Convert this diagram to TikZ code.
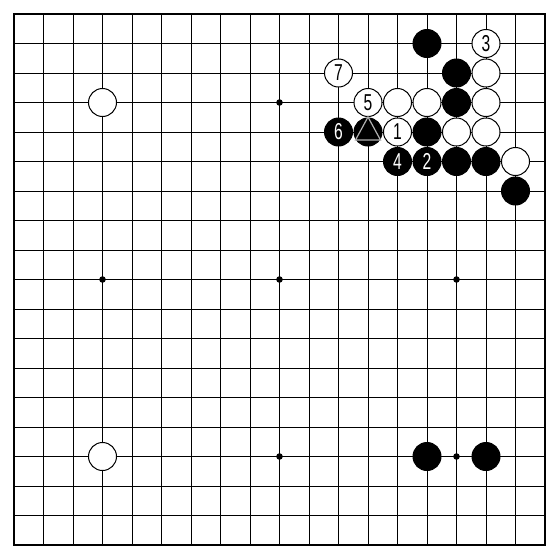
\documentclass[tikz,border=0pt]{standalone}
\usepackage{fontspec}
\setmainfont{Liberation Sans}
\usetikzlibrary{calc}
\begin{document}
\begin{tikzpicture}[x=1pt,y=-1pt,
  bst/.style={circle,fill=black,draw=black,line width=1pt,minimum size=28pt,inner sep=0pt,text=white},
  wst/.style={circle,fill=white,draw=black,line width=1pt,minimum size=28pt,inner sep=0pt,text=black}]
\useasboundingbox (0,0) rectangle (560,560);
\fill[white] (0,0) rectangle (560,560);
% grid
\foreach \i in {2,...,18} {
  \draw[line width=1pt] ({14+(\i-1)*29.5},14) -- ({14+(\i-1)*29.5},545);
  \draw[line width=1pt] (14,{14+(\i-1)*29.5}) -- (545,{14+(\i-1)*29.5});
}
\draw[line width=2pt] (14,14) rectangle (545,545);
% star points
\foreach \a in {4,10,16} \foreach \b in {4,10,16}
  \fill ({14+(\a-1)*29.5},{14+(\b-1)*29.5}) circle (3.3pt);
% stones
\newcommand\pos[2]{({14+(#1-1)*29.5},{14+(#2-1)*29.5})}
\newcommand\num[1]{\fontsize{23}{23}\selectfont\scalebox{0.68}[1]{#1}}
\node[bst] (b1) at \pos{15}{2} {};
\node[wst] (w3) at \pos{17}{2} {\num{3}};
\node[wst] (w7) at \pos{12}{3} {\num{7}};
\node[bst] (b2) at \pos{16}{3} {};
\node[wst] (w2) at \pos{17}{3} {};
\node[wst] (w4) at \pos{4}{4} {};
\node[wst] (w5) at \pos{13}{4} {\num{5}};
\node[wst] (w6) at \pos{14}{4} {};
\node[wst] (w8) at \pos{15}{4} {};
\node[bst] (b3) at \pos{16}{4} {};
\node[wst] (w9) at \pos{17}{4} {};
\node[bst] (b6) at \pos{12}{5} {\num{6}};
\node[bst] (bt) at \pos{13}{5} {};
\node[wst] (w1) at \pos{14}{5} {\num{1}};
\node[bst] (b4) at \pos{15}{5} {};
\node[wst] (w10) at \pos{16}{5} {};
\node[wst] (w11) at \pos{17}{5} {};
\node[bst] (b40) at \pos{14}{6} {\num{4}};
\node[bst] (b20) at \pos{15}{6} {\num{2}};
\node[bst] (b7) at \pos{16}{6} {};
\node[bst] (b8) at \pos{17}{6} {};
\node[wst] (w12) at \pos{18}{6} {};
\node[bst] (b9) at \pos{18}{7} {};
\node[wst] (w13) at \pos{4}{16} {};
\node[bst] (b10) at \pos{15}{16} {};
\node[bst] (b11) at \pos{17}{16} {};
% triangle mark
\draw[draw=white!70!black,fill=black,line width=1.2pt,line join=miter]
  ($(bt)+(0,-15)$) -- ($(bt)+(12.5,8)$) -- ($(bt)+(-12.5,8)$) -- cycle;
\end{tikzpicture}
\end{document}
